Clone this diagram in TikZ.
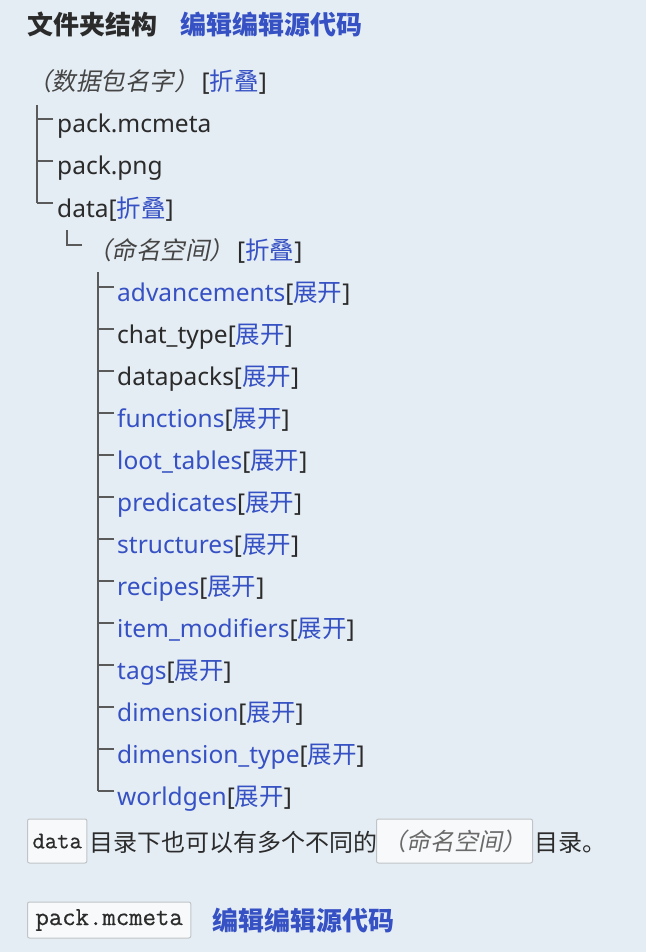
\documentclass[tikz,border=0pt]{standalone}
\usepackage{fontspec}
\setmainfont{Noto Sans}
\setmonofont{Latin Modern Mono}[FakeBold=0.6]
\newfontfamily\cjk{Noto Sans CJK SC}
\newfontfamily\cjkit{Noto Sans CJK SC}[FakeSlant=0.2]
\usetikzlibrary{calc}

\definecolor{bgc}{HTML}{E5EDF4}
\definecolor{txt}{HTML}{2B2B2B}
\definecolor{linkc}{HTML}{3651C4}
\definecolor{ital}{HTML}{454545}
\definecolor{treec}{HTML}{5A5A5A}
\definecolor{codebg}{HTML}{F8F9FA}
\definecolor{codeln}{HTML}{C0C4C8}

% bracketed toggle links
\newcommand\zhedie{{\color{txt}[}{\cjk\color{linkc}折叠}{\color{txt}]}}
\newcommand\zhankai{{\color{txt}[}{\cjk\color{linkc}展开}{\color{txt}]}}

\tikzset{
  item/.style={anchor=base west, inner sep=0pt, font=\fontsize{24.5}{28}\selectfont, text=txt},
  linkitem/.style={item, text=linkc},
  hdr/.style={anchor=base west, inner sep=0pt, font=\fontsize{26}{30}\selectfont\cjk\bfseries},
  tree/.style={draw=treec, line width=1.3pt},
  codebox/.style={draw=codeln, fill=codebg, rounded corners=2pt, line width=1pt,
    anchor=west, inner ysep=0pt}
}

\begin{document}
\begin{tikzpicture}[x=1pt, y=-1pt]
\fill[bgc] (0,0) rectangle (646,952);
\useasboundingbox (0,0) rectangle (646,952);

% section heading
\node[hdr, text=txt] (title) at (27,35) {文件夹结构};
\node[hdr, text=linkc] (edit1) at (180,35) {编辑编辑源代码};

% root of the tree
\node[item] (root) at (27,91) {{\cjkit\color{ital}（数据包名字）}\hspace{3pt}\zhedie};

% first level
\node[item] (mcmeta) at (57,133) {pack.mcmeta};
\node[item] (png) at (57,175) {pack.png};
\node[item] (data) at (57,217) {data\zhedie};

\coordinate (trunkA) at (37,105);
\foreach \n in {mcmeta,png,data}
  \draw[tree] ($(\n.base west)+(-4,-14)$) -- ++(-16,0);
\draw[tree] (trunkA) -- ($(trunkA |- data.base west)+(0,-14)$);

% second level
\node[item] (ns) at (87,259) {{\cjkit\color{ital}（命名空间）}\hspace{3pt}\zhedie};
\draw[tree] ($(ns.base west)+(-5,-14)$) -- ++(-15,0) -- ++(0,-15);

% third level
\node[linkitem] (adv)  at (117,301) {advancements\zhankai};
\node[item]     (chat) at (117,343) {chat\_type\zhankai};
\node[item]     (dp)   at (117,385) {datapacks\zhankai};
\node[linkitem] (fn)   at (117,427) {functions\zhankai};
\node[linkitem] (loot) at (117,469) {loot\_tables\zhankai};
\node[linkitem] (pred) at (117,511) {predicates\zhankai};
\node[linkitem] (str)  at (117,553) {structures\zhankai};
\node[linkitem] (rec)  at (117,595) {recipes\zhankai};
\node[linkitem] (imod) at (117,637) {item\_modifiers\zhankai};
\node[linkitem] (tags) at (117,679) {tags\zhankai};
\node[linkitem] (dim)  at (117,721) {dimension\zhankai};
\node[linkitem] (dimt) at (117,763) {dimension\_type\zhankai};
\node[linkitem] (wg)   at (117,805) {worldgen\zhankai};

\coordinate (trunkC) at (98,272);
\foreach \n in {adv,chat,dp,fn,loot,pred,str,rec,imod,tags,dim,dimt,wg}
  \draw[tree] ($(\n.base west)+(-3,-14)$) -- ++(-16,0);
\draw[tree] (trunkC) -- ($(trunkC |- wg.base west)+(0,-14)$);

% note below the tree
\node[codebox, minimum height=44pt, inner xsep=5pt,
      font=\fontsize{24}{28}\selectfont\ttfamily, text=txt] (datacode) at (27,841) {data};
\node[item] (note1) at (89,851) {\cjk\fontsize{24}{28}\selectfont 目录下也可以有多个不同的};
\node[codebox, minimum height=44pt, inner xsep=6pt,
      font=\fontsize{24}{28}\selectfont\cjkit, text=ital!80!white] (nscode) at (376,841) {（命名空间）};
\node[item] (note2) at (534,851) {\cjk\fontsize{24}{28}\selectfont 目录。};

% next section heading
\node[codebox, minimum height=36pt, inner xsep=8pt,
      font=\fontsize{26}{30}\selectfont\ttfamily, text=txt] (packcode) at (27,920) {pack.mcmeta};
\node[hdr, text=linkc] (edit2) at (212,930) {编辑编辑源代码};
\end{tikzpicture}
\end{document}
